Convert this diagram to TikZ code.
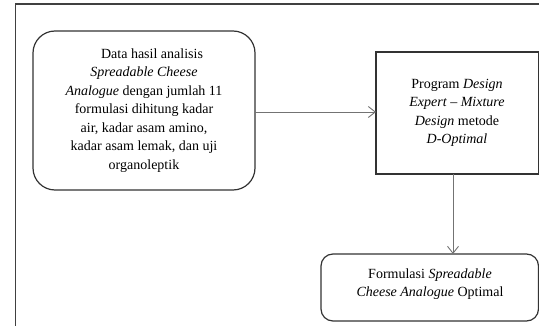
\documentclass[tikz,border=0pt]{standalone}
\usepackage{fontspec}
\setmainfont{Liberation Serif}
\usetikzlibrary{arrows.meta}
\begin{document}
\begin{tikzpicture}[x=1pt,y=-1pt,
  txt/.style={font=\fontsize{14}{18.5}\selectfont, align=center, inner sep=0pt},
  boxline/.style={draw=black!80, line width=1.2pt},
  conn/.style={draw=black!55, line width=0.9pt, -{Straight Barb[length=7pt,width=11pt,line width=0.9pt]}}]
\useasboundingbox (0,0) rectangle (539,326);
\clip (0,0) rectangle (539,326);
% outer frame
\draw[black!75, line width=1.2pt] (15.5,340) -- (15.5,4) -- (560,4);
% boxes
\draw[boxline, rounded corners=22pt] (33,31) rectangle (255,190);
\node[txt] (a) at (144,110.5) {\hspace*{16pt}Data hasil analisis\\ \textit{Spreadable Cheese}\\ \textit{Analogue} dengan jumlah 11\\ formulasi dihitung kadar\\ air, kadar asam amino,\\ kadar asam lemak, dan uji\\ organoleptik};
\coordinate (aE) at (255,112);
\draw[boxline] (376,52) rectangle (538.5,174);
\node[txt] (b) at (457,113) {Program \textit{Design}\\ \textit{Expert -- Mixture}\\ \textit{Design} metode\\ \textit{D-Optimal}};
\coordinate (bW) at (376,112);
\coordinate (bS) at (453,174);
\draw[boxline, rounded corners=12pt] (321,254) rectangle (538.5,321);
\node[txt] (c) at (430,284) {Formulasi \textit{Spreadable}\\ \textit{Cheese Analogue} Optimal};
\coordinate (cN) at (453,254);
\draw[conn] (aE) -- (bW);
\draw[conn] (bS) -- (cN);
\end{tikzpicture}
\end{document}
